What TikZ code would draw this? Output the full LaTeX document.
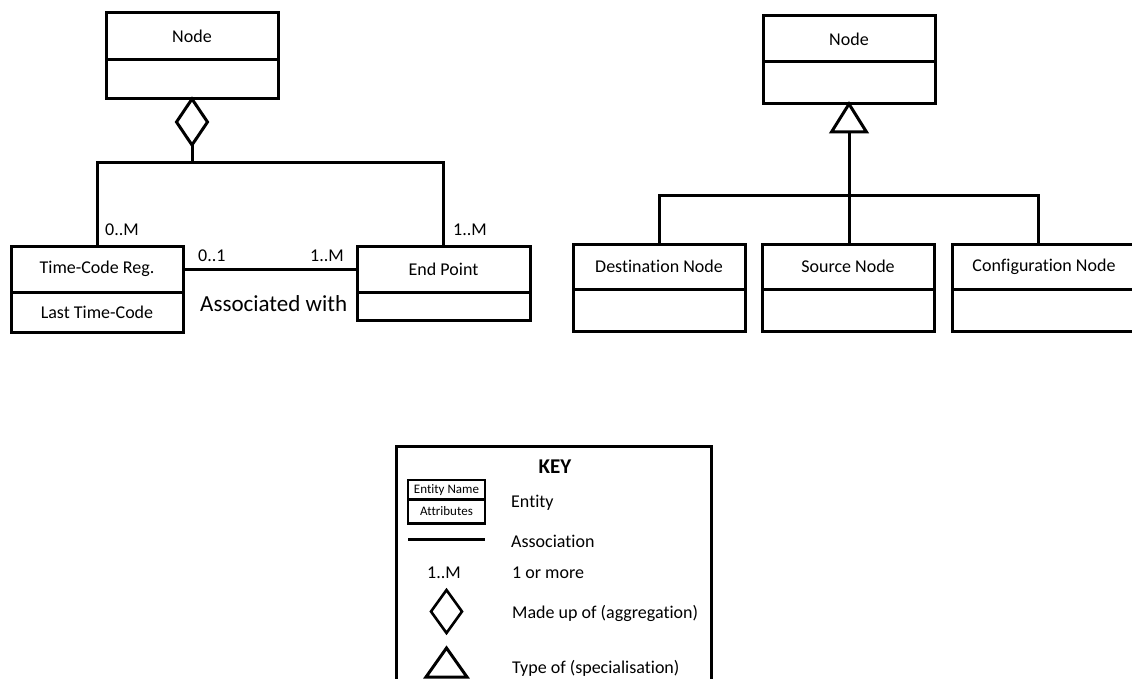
\documentclass[tikz,border=0pt]{standalone}
\usepackage{fontspec}
\setmainfont{Carlito}[Ligatures=CommonOff]
\usetikzlibrary{shapes.geometric}
\begin{document}
\begin{tikzpicture}[x=1pt,y=-1pt,
  lw/.style={line width=3pt},
  part/.style={draw, lw, inner sep=0pt, outer sep=0pt, anchor=north west,
    font=\fontsize{18}{20}\selectfont},
  lbl/.style={inner sep=0pt, anchor=base west, font=\fontsize{18}{20}\selectfont},
  conn/.style={lw, line join=miter},
  agg/.style={diamond, draw, lw, inner sep=0pt, outer sep=0pt},
]
\useasboundingbox (0,0) rectangle (1132,679);

% ---- Aggregation: Node made up of Time-Code Reg. and End Point ----
\node[part, minimum width=172pt, minimum height=47pt] (nA) at (106,13) {Node};
\node[part, minimum width=172pt, minimum height=39pt] (nAb) at (nA.south west) {};
\node[agg, minimum width=31pt, minimum height=46pt, anchor=north] (aggA) at (nAb.south) {};

\node[part, minimum width=172pt, minimum height=46pt] (tcr) at (11,246) {Time-Code Reg.};
\node[part, minimum width=172pt, minimum height=40pt] (tcrb) at (tcr.south west) {Last Time-Code};
\node[part, minimum width=173pt, minimum height=46pt] (ep) at (357,246) {End Point};
\node[part, minimum width=173pt, minimum height=28pt] (epb) at (ep.south west) {};

\coordinate (busA) at (192,163);
\draw[conn] (aggA.south) -- (busA);
\draw[conn] (tcr.north) |- (busA) -| (ep.north);
\draw[conn] (tcr.east) -- (ep.west);

\node[lbl] (mA) at (105,235) {0..M};
\node[lbl] (mB) at (453,235) {1..M};
\node[lbl] (mC) at (198,261) {0..1};
\node[lbl] (mD) at (310,261) {1..M};
\node[lbl, font=\fontsize{23}{26}\selectfont] (assoc) at (200,311) {Associated with};

% ---- Specialisation: types of Node ----
\node[part, minimum width=172pt, minimum height=46pt] (nB) at (763,16) {Node};
\node[part, minimum width=172pt, minimum height=42pt] (nBb) at (nB.south west) {};
\coordinate (triTip) at (nBb.south);
\path (triTip) ++(0,28) coordinate (triBase);
\draw[lw, line join=miter] (triTip) -- ++(17.5,28) -- ++(-35,0) -- cycle;

\node[part, minimum width=172pt, minimum height=45pt] (dst) at (573,244) {Destination Node};
\node[part, minimum width=172pt, minimum height=42pt] (dstb) at (dst.south west) {};
\node[part, minimum width=172pt, minimum height=45pt] (src) at (762,244) {Source Node};
\node[part, minimum width=172pt, minimum height=42pt] (srcb) at (src.south west) {};
\node[part, minimum width=184pt, minimum height=45pt] (cfg) at (952,244) {Configuration Node};
\node[part, minimum width=184pt, minimum height=42pt] (cfgb) at (cfg.south west) {};

\coordinate (busR) at (1038,196);
\draw[conn] (triBase) -- (triBase |- src.north);
\draw[conn] (dst.north) |- (busR) -- (busR |- cfg.north);

% ---- Key ----
\draw[lw] (396.5,446) rectangle (711.5,690);
\node[inner sep=0pt, anchor=base, font=\bfseries\fontsize{21}{24}\selectfont] (keyT) at (555,473) {KEY};

\node[part, line width=2.6pt, minimum width=77pt, minimum height=19.5pt,
  font=\fontsize{13}{15}\selectfont] (kE) at (408,480) {Entity Name};
\node[part, line width=2.6pt, minimum width=77pt, minimum height=24pt,
  font=\fontsize{13}{15}\selectfont] (kEb) at (kE.south west) {Attributes};
\node[lbl] (kEt) at (511,507) {Entity};

\coordinate (kL1) at (408,539);
\coordinate (kL2) at (485,539);
\draw[lw] (kL1) -- (kL2);
\node[lbl] (kLt) at (511,547) {Association};

\node[lbl, anchor=base] (k1M) at (444,578) {1..M};
\node[lbl] (k1Mt) at (512,578) {1 or more};

\node[agg, line width=2.6pt, minimum width=31pt, minimum height=43pt] (kD) at (446.5,611.5) {};
\node[lbl] (kDt) at (512,618) {Made up of (aggregation)};

\coordinate (kT) at (446.5,648);
\draw[lw, line join=miter] (kT) -- ++(20.5,29) -- ++(-41,0) -- cycle;
\node[lbl] (kTt) at (512,673) {Type of (specialisation)};
\end{tikzpicture}
\end{document}
